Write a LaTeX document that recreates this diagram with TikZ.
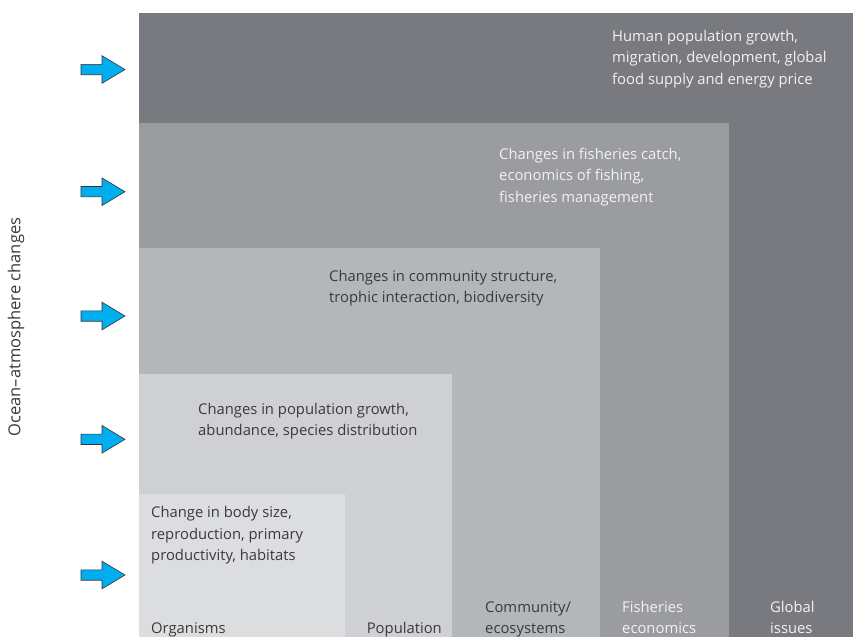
\documentclass[tikz,border=0pt]{standalone}
\usepackage{fontspec}
\setmainfont{Open Sans}
\definecolor{cglobal}{HTML}{797A7F}
\definecolor{cfish}{HTML}{9A9CA0}
\definecolor{ccomm}{HTML}{B4B7BA}
\definecolor{cpop}{HTML}{CFD0D3}
\definecolor{corg}{HTML}{DCDDDF}
\definecolor{tdark}{HTML}{3A3A3C}
\definecolor{tlight}{HTML}{F2F2F2}
\definecolor{arrowblue}{HTML}{00AEEF}
\newcommand{\lines}[1]{\begin{tabular}[t]{@{}l@{}}#1\end{tabular}}
\tikzset{
  lvl/.style={inner sep=0pt, anchor=base west, font=\fontsize{14.8}{21.5}\selectfont},
  dk/.style={lvl, text=tdark},
  lt/.style={lvl, text=tlight},
  bluearrow/.style={fill=arrowblue, draw=black!80, line width=0.6pt, line join=miter}
}
\begin{document}
\begin{tikzpicture}[x=1pt,y=-1pt]
\useasboundingbox (0,0) rectangle (853,637);
\fill[white] (0,0) rectangle (853,637);
% nested boxes
\fill[cglobal] (139,13) rectangle (853,637);
\fill[cfish] (139,123) rectangle (729,637);
\fill[ccomm] (139,248) rectangle (600,637);
\fill[cpop] (139,374) rectangle (452,637);
\fill[corg] (139,494) rectangle (345,637);
% descriptions
\node[lt] (tglobal) at (612,41) {\lines{Human population growth,\\migration, development, global\\food supply and energy price}};
\node[lt] (tfish) at (499,159) {\lines{Changes in fisheries catch,\\economics of fishing,\\fisheries management}};
\node[dk] (tcomm) at (329,281) {\lines{Changes in community structure,\\trophic interaction, biodiversity}};
\node[dk] (tpop) at (198,414) {\lines{Changes in population growth,\\abundance, species distribution}};
\node[dk] (torg) at (151,517.5) {\lines{Change in body size,\\reproduction, primary\\productivity, habitats}};
% bottom labels
\node[dk] (lorg) at (151,633) {Organisms};
\node[lvl, text=tdark, anchor=base east] (lpop) at (442,633) {Population};
\node[dk] (lcomm) at (485,612) {\lines{Community/\\ecosystems}};
\node[lt] (lfish) at (622,612) {\lines{Fisheries\\economics}};
\node[lt] (lglob) at (770,612) {\lines{Global\\issues}};
% side label
\node[inner sep=0pt, rotate=90, text=tdark, font=\fontsize{16.5}{18}\selectfont] (side) at (16,327) {Ocean–atmosphere changes};
% arrows
\foreach \n/\yy in {a1/69.5, a2/191.7, a3/316, a4/439.3, a5/575}{
  \draw[bluearrow] (81,\yy-5.2) -- (102,\yy-5.2) -- (102,\yy-13.8) -- (125,\yy) -- (102,\yy+13.8) -- (102,\yy+5.2) -- (81,\yy+5.2) -- cycle;
}
\end{tikzpicture}
\end{document}
